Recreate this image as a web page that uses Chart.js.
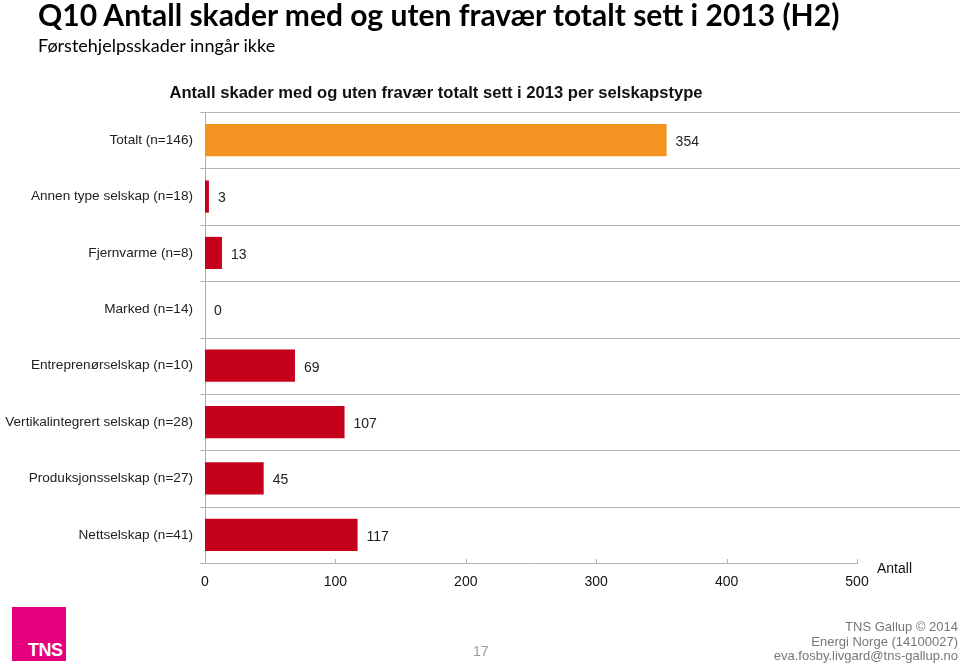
<!DOCTYPE html>
<html>
<head>
<meta charset="utf-8">
<script src="https://cdn.jsdelivr.net/npm/chart.js@4/dist/chart.umd.min.js"></script>
<style>
  body { margin: 0; background: #fff; }
  #wrap { position: relative; width: 960px; height: 666px; overflow: hidden; font-family: "Liberation Sans", Arial, sans-serif; }
  #wrap canvas { position: absolute; left: 0; top: 0; }
  .t { position: absolute; white-space: nowrap; }
  #title { left: 38px; top: -4px; font-family: Lato, sans-serif; font-weight: bold; font-size: 30px; color: #000; }
  #sub { left: 38px; top: 34px; font-family: Lato, sans-serif; font-size: 18px; color: #000; }
  #ctitle { left: 0; width: 872px; text-align: center; top: 83px; font-weight: bold; font-size: 16.6px; color: #111; }
  #unit { left: 877px; top: 560px; font-size: 14px; color: #111; }
  #page { left: 473px; top: 643px; font-size: 14px; color: #999; }
  #foot { right: 2px; top: 620px; text-align: right; font-size: 13px; line-height: 14.5px; color: #777; }
  #logo { position: absolute; left: 12px; top: 607px; width: 54px; height: 54px; background: #e5007d; }
  #logo span { position: absolute; left: 16px; bottom: 0px; color: #fff; font-weight: bold; font-size: 18px; letter-spacing: -0.5px; }
</style>
</head>
<body>
<div id="wrap">
  <canvas id="myChart" width="960" height="666"></canvas>
  <div class="t" id="title">Q10 Antall skader med og uten fravær totalt sett i 2013 (H2)</div>
  <div class="t" id="sub">Førstehjelpsskader inngår ikke</div>
  <div class="t" id="ctitle">Antall skader med og uten fravær totalt sett i 2013 per selskapstype</div>
  <div class="t" id="unit">Antall</div>
  <div class="t" id="page">17</div>
  <div class="t" id="foot">TNS Gallup © 2014<br>Energi Norge (14100027)<br>eva.fosby.livgard@tns-gallup.no</div>
  <div id="logo"><span>TNS</span></div>
</div>
<script>
// categories and values
const categories = ['Totalt (n=146)', 'Annen type selskap (n=18)', 'Fjernvarme (n=8)', 'Marked (n=14)',
  'Entreprenørselskap (n=10)', 'Vertikalintegrert selskap (n=28)', 'Produksjonsselskap (n=27)', 'Nettselskap (n=41)']
const values = [354, 3, 13, 0, 69, 107, 45, 117]
const xTicks = [0, 100, 200, 300, 400, 500]

const ORANGE = '#f39322'
const RED = '#c5001a'
const LINE = '#b4b4b4'

// value labels, separator lines and small ticks
const extras = {
  id: 'extras',
  afterDraw(chart) {
    const ctx = chart.ctx
    const area = chart.chartArea
    const y = chart.scales.y
    const x = chart.scales.x
    const step = (y.getPixelForValue(1) - y.getPixelForValue(0))
    ctx.save()
    ctx.strokeStyle = LINE
    ctx.lineWidth = 1
    // separators between categories, running on to the page edge
    for (let i = 0; i <= categories.length; i++) {
      const yy = Math.round(y.getPixelForValue(i) - step / 2) + 0.5
      ctx.beginPath()
      ctx.moveTo(area.left - 5, yy)
      ctx.lineTo(i === categories.length ? area.left : chart.width, yy)
      ctx.stroke()
    }
    // little ticks pointing up from the x axis
    xTicks.forEach(v => {
      const xx = Math.round(x.getPixelForValue(v)) + 0.5
      ctx.beginPath()
      ctx.moveTo(xx, area.bottom)
      ctx.lineTo(xx, area.bottom - 4)
      ctx.stroke()
    })
    // numbers at the end of the bars
    ctx.fillStyle = '#222'
    ctx.font = '14px "Liberation Sans", Arial, sans-serif'
    ctx.textBaseline = 'middle'
    chart.getDatasetMeta(0).data.forEach((bar, i) => {
      ctx.fillText(String(values[i]), bar.x + 9, bar.y + 2)
    })
    ctx.restore()
  }
}

Chart.defaults.font.family = '"Liberation Sans", Arial, sans-serif'
Chart.defaults.font.size = 14
Chart.defaults.color = '#222'

const chart = new Chart(document.getElementById('myChart'), {
  type: 'bar',
  data: {
    labels: categories,
    datasets: [{
      data: values,
      backgroundColor: values.map((v, i) => i === 0 ? ORANGE : RED),
      barPercentage: 0.57,
      categoryPercentage: 1
    }]
  },
  options: {
    indexAxis: 'y',
    responsive: false,
    animation: false,
    layout: { padding: { left: 0, right: 103, top: 112, bottom: 0 } },
    plugins: { legend: { display: false }, tooltip: { enabled: false } },
    scales: {
      x: {
        min: 0,
        max: 500,
        afterFit(s) { s.height = 103 },
        afterBuildTicks(s) { s.ticks = xTicks.map(v => ({ value: v })) },
        grid: { display: false },
        border: { color: LINE },
        ticks: { padding: 3, font: { size: 14 }, color: '#111' }
      },
      y: {
        afterFit(s) { s.width = 205 },
        grid: { display: false },
        border: { color: '#aaa' },
        ticks: { padding: 4, font: { size: 13.6 }, color: '#222' }
      }
    }
  },
  plugins: [extras]
})
</script>
</body>
</html>
